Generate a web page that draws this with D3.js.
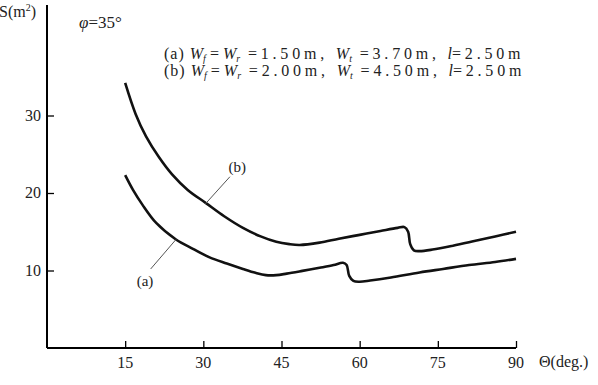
<!DOCTYPE html>
<html>
<head>
<meta charset="utf-8">
<script src="https://cdn.jsdelivr.net/npm/d3@7"></script>
<style>
  body { margin: 0; background: #fff; }
  svg { display: block; }
  text { font-family: "Liberation Serif", "DejaVu Serif", serif; fill: #222; }
</style>
</head>
<body>
<div id="chart"></div>
<script>
// curve (a)
const thetaA = [15, 16.5, 18.3, 21, 24.75, 28, 31.2, 34.5, 37.6, 40, 42, 44, 46, 49, 52.3, 55, 56.8, 57.5, 58.0, 58.8, 60, 62, 66, 71.5, 76, 81, 86, 90];
const sA = [22.3, 20.4, 18.5, 16.1, 14.0, 12.8, 11.7, 10.9, 10.2, 9.7, 9.4, 9.4, 9.6, 9.95, 10.35, 10.7, 11.0, 10.7, 9.3, 8.65, 8.55, 8.7, 9.1, 9.75, 10.2, 10.7, 11.1, 11.5];
// curve (b)
const thetaB = [15, 17, 19, 21.5, 24, 27, 30.5, 34, 37.6, 41, 44, 46.5, 48.5, 52.3, 56, 60, 64, 67.3, 68.6, 69.3, 69.7, 70.4, 71.5, 74, 77.9, 82, 86, 90];
const sB = [34.2, 30.2, 27.3, 24.6, 22.4, 20.4, 18.7, 17.0, 15.5, 14.4, 13.7, 13.4, 13.3, 13.6, 14.1, 14.6, 15.1, 15.5, 15.6, 15.0, 13.4, 12.6, 12.5, 12.7, 13.2, 13.8, 14.4, 15.0];

const xTicks = [15, 30, 45, 60, 75, 90];
const yTicks = [10, 20, 30];

const width = 598, height = 385;
const svg = d3.select("#chart").append("svg")
    .attr("width", width)
    .attr("height", height);

const x = d3.scaleLinear().domain([0, 90]).range([47, 516]);
const y = d3.scaleLinear().domain([0, 10]).range([348, 270.5]);

// axes (ticks point inward)
const xAxis = svg.append("g")
    .attr("transform", "translate(0," + y(0) + ")")
    .call(d3.axisTop(x).tickValues(xTicks).tickSize(7).tickFormat(""));
xAxis.select(".domain").attr("d", "M" + x(0) + ",0H" + x(90)).attr("stroke-width", 2);
xAxis.selectAll(".tick line").attr("stroke-width", 1.3);

const yAxis = svg.append("g")
    .attr("transform", "translate(" + x(0) + ",0)")
    .call(d3.axisRight(y).tickValues(yTicks).tickSize(7).tickFormat(""));
yAxis.select(".domain").attr("d", "M0," + y(0) + "V5").attr("stroke-width", 2);
yAxis.selectAll(".tick line").attr("stroke-width", 1.3);

// tick labels
svg.selectAll(".xl").data(xTicks).enter().append("text")
    .attr("x", d => x(d))
    .attr("y", 368)
    .attr("text-anchor", "middle")
    .attr("font-size", "16px")
    .text(d => d);

svg.selectAll(".yl").data(yTicks).enter().append("text")
    .attr("x", 41)
    .attr("y", d => y(d) + 5)
    .attr("text-anchor", "end")
    .attr("font-size", "16px")
    .text(d => d);

// axis titles
const st = svg.append("text").attr("x", -1).attr("y", 17).attr("font-size", "16px");
st.append("tspan").text("S(m");
st.append("tspan").attr("font-size", "10px").attr("dy", -6).text("2");
st.append("tspan").attr("dy", 6).text(")");

svg.append("text").attr("x", 539).attr("y", 367).attr("font-size", "16px").text("Θ(deg.)");

const phi = svg.append("text").attr("x", 79).attr("y", 28).attr("font-size", "17px");
phi.append("tspan").attr("font-style", "italic").text("φ");
phi.append("tspan").text("=35°");

// legend lines
function legendLine(yy, tag, a, b, c) {
    const t = svg.append("text").attr("x", 164).attr("y", yy).attr("font-size", "16px");
    t.append("tspan").attr("letter-spacing", "1px").text(tag + "  ");
    t.append("tspan").attr("font-style", "italic").text("W");
    t.append("tspan").attr("font-size", "10px").attr("dy", 3).attr("font-style", "italic").text("f");
    t.append("tspan").attr("dy", -3).text(" = ");
    t.append("tspan").attr("font-style", "italic").text("W");
    t.append("tspan").attr("font-size", "10px").attr("dy", 3).attr("font-style", "italic").text("r");
    t.append("tspan").attr("dy", -3).attr("letter-spacing", "3.8px").text(" =" + a + ", ");
    t.append("tspan").attr("font-style", "italic").text("W");
    t.append("tspan").attr("font-size", "10px").attr("dy", 3).attr("font-style", "italic").text("t");
    t.append("tspan").attr("dy", -3).attr("letter-spacing", "3.8px").text(" =" + b + ", ");
    t.append("tspan").attr("font-style", "italic").text("l");
    t.append("tspan").attr("letter-spacing", "3.8px").text("=" + c);
}
legendLine(59, "(a)", "1.50m", "3.70m", "2.50m");
legendLine(76, "(b)", "2.00m", "4.50m", "2.50m");

// curves
const line = d3.line()
    .x(d => x(d[0]))
    .y(d => y(d[1]))
    .curve(d3.curveCatmullRom.alpha(0.5));

svg.append("path")
    .datum(d3.zip(thetaA, sA))
    .attr("d", line)
    .attr("fill", "none")
    .attr("stroke", "#111")
    .attr("stroke-width", 2.6);

svg.append("path")
    .datum(d3.zip(thetaB, sB))
    .attr("d", line)
    .attr("fill", "none")
    .attr("stroke", "#111")
    .attr("stroke-width", 2.6);

// leaders and curve labels
const leaders = [
    { from: [19.9, 10.2], to: [24.75, 14.0], label: "(a)", at: [18.8, 8.6] },
    { from: [35.1, 22.1], to: [30.4, 18.6], label: "(b)", at: [36.5, 23.4] }
];
leaders.forEach(l => {
    svg.append("line")
        .attr("x1", x(l.from[0])).attr("y1", y(l.from[1]))
        .attr("x2", x(l.to[0])).attr("y2", y(l.to[1]))
        .attr("stroke", "#555")
        .attr("stroke-width", 1);
    svg.append("text")
        .attr("x", x(l.at[0]))
        .attr("y", y(l.at[1]) + 5)
        .attr("text-anchor", "middle")
        .attr("font-size", "15px")
        .text(l.label);
});
</script>
</body>
</html>
